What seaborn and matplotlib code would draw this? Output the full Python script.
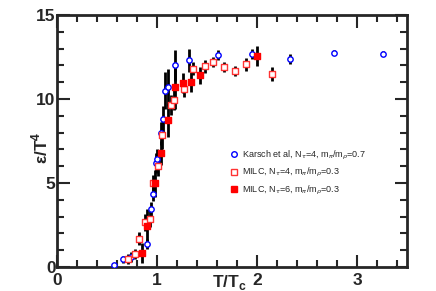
import numpy as np
import pandas as pd
import seaborn as sns
import matplotlib.pyplot as plt
from matplotlib.lines import Line2D
from matplotlib.ticker import MultipleLocator

# Karsch et al, Nt=4, mpi/mrho=0.7
karsch_x = [0.57, 0.66, 0.74, 0.82, 0.90, 0.94, 0.96, 0.99, 1.00, 1.04, 1.06, 1.08, 1.11, 1.18, 1.32, 1.61, 1.95, 2.33, 2.77, 3.26]
karsch_y = [0.12, 0.46, 0.58, 1.65, 1.35, 3.45, 4.35, 6.2, 6.4, 7.95, 8.8, 10.5, 10.7, 12.0, 12.3, 12.6, 12.66, 12.36, 12.76, 12.7]
karsch_err = [0.1, 0.2, 0.3, 0.3, 0.3, 0.4, 0.4, 0.6, 0.6, 0.7, 0.8, 1.1, 1.1, 0.9, 0.7, 0.3, 0.3, 0.3, 0.15, 0.15]

# MILC, Nt=4, mpi/mrho=0.3
milc4_x = [0.71, 0.78, 0.82, 0.88, 0.93, 0.96, 1.01, 1.05, 1.14, 1.17, 1.27, 1.36, 1.48, 1.56, 1.67, 1.78, 1.89, 2.15]
milc4_y = [0.47, 0.78, 1.69, 2.67, 2.86, 5.0, 6.0, 7.85, 9.64, 9.94, 10.6, 11.8, 11.95, 12.2, 11.9, 11.67, 12.06, 11.5]
milc4_err = [0.3, 0.3, 0.4, 0.5, 0.5, 0.5, 0.6, 0.8, 0.6, 0.6, 0.5, 0.4, 0.4, 0.3, 0.3, 0.3, 0.4, 0.4]

# MILC, Nt=6, mpi/mrho=0.3
milc6_x = [0.85, 0.90, 0.98, 1.04, 1.11, 1.18, 1.26, 1.34, 1.43, 2.00]
milc6_y = [0.81, 2.44, 4.98, 6.8, 8.75, 10.73, 10.97, 11.0, 11.4, 12.56]
milc6_err = [0.6, 1.0, 0.8, 0.7, 1.0, 1.3, 0.6, 0.6, 0.5, 0.6]

sns.set_style("ticks")
plt.rcParams['font.family'] = ['Liberation Sans', 'DejaVu Sans']

fig = plt.figure(figsize=(4.36, 2.91), dpi=100)
ax = fig.add_axes([57 / 436, 1 - 267 / 291, 350 / 436, 252 / 291])

series = [
    (karsch_x, karsch_y, karsch_err, 'o', 'blue', 'white', 15),
    (milc4_x, milc4_y, milc4_err, 's', '#ff3333', 'white', 19),
    (milc6_x, milc6_y, milc6_err, 's', 'red', 'red', 19),
]

for xs, ys, es, mk, ec, fc, sz in series:
    ax.errorbar(xs, ys, yerr=es, fmt='none', ecolor='black', elinewidth=2, capsize=0, zorder=2)
for xs, ys, es, mk, ec, fc, sz in series:
    df = pd.DataFrame({"x": xs, "y": ys})
    sns.scatterplot(data=df, x="x", y="y", ax=ax, marker=mk, s=sz,
                    facecolor=fc, edgecolor=ec, linewidth=1, zorder=3)

ax.set_xlim(0, 3.5)
ax.set_ylim(0, 15)
ax.xaxis.set_major_locator(MultipleLocator(1))
ax.xaxis.set_minor_locator(MultipleLocator(0.2))
ax.yaxis.set_major_locator(MultipleLocator(5))
ax.yaxis.set_minor_locator(MultipleLocator(1))
ax.tick_params(which='both', direction='in', top=True, right=True, width=1.5)
ax.tick_params(which='major', length=9)
ax.tick_params(which='minor', length=5)
ax.tick_params(axis='y', which='major', pad=1)
ax.tick_params(axis='x', which='major', pad=4)
ax.set_xticks([0, 1, 2, 3])
ax.set_xticklabels(['0', '1', '2', '3'], fontsize=12.5, fontweight='bold')
ax.set_yticks([0, 5, 10, 15])
ax.set_yticklabels(['0', '5', '10', '15'], fontsize=12.5, fontweight='bold')
for sp in ax.spines.values():
    sp.set_linewidth(2)

ax.set_xlabel("")
ax.set_ylabel("")
fig.text(229 / 436, 1 - 283 / 291, "T/T$_\\mathregular{c}$", fontsize=12.5, fontweight='bold',
         ha='center', va='center')
fig.text(40 / 436, 1 - 148 / 291, "ε/T$^\\mathregular{4}$", fontsize=12.5, fontweight='bold',
         ha='center', va='center', rotation=90)

handles = [
    Line2D([], [], ls='none', marker='o', ms=4, mfc='white', mec='blue', mew=1),
    Line2D([], [], ls='none', marker='s', ms=4.5, mfc='white', mec='#ff3333', mew=1),
    Line2D([], [], ls='none', marker='s', ms=4.5, mfc='red', mec='red', mew=1),
]
labels = [
    "Karsch et al, N$_\\tau$=4, m$_\\pi$/m$_\\rho$=0.7",
    "MILC, N$_\\tau$=4, m$_\\pi$/m$_\\rho$=0.3",
    "MILC, N$_\\tau$=6, m$_\\pi$/m$_\\rho$=0.3",
]
ax.legend(handles, labels, loc='upper left', bbox_to_anchor=(225 / 436, 1 - 145 / 291),
          bbox_transform=fig.transFigure, frameon=False, fontsize=6.5,
          handletextpad=0.3, handlelength=1.2, labelspacing=0.5, borderaxespad=0)

fig.savefig("out.png", dpi=100)
